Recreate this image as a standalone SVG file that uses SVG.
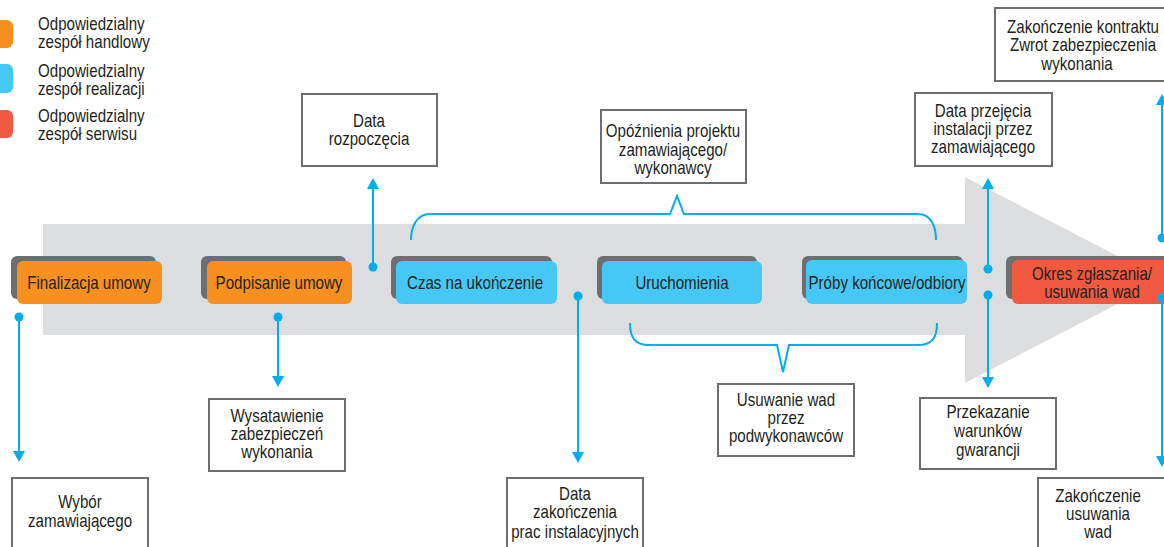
<svg xmlns="http://www.w3.org/2000/svg" width="1164" height="547" viewBox="0 0 1164 547">
  <defs>
    <style>
      .t { font-family: "Liberation Sans", Arial, sans-serif; font-size: 18px; fill: #231f20; text-anchor: middle; }
      .tl { text-anchor: start; }
      .box { fill: #ffffff; stroke: #6d6e70; stroke-width: 2; }
      .shadow { fill: #6d6e70; }
      .orange { fill: #f7901e; }
      .blue { fill: #45c8f5; }
      .red { fill: #f15a40; }
      .conn { fill: none; stroke: #00aeef; stroke-width: 2; }
      .dot { fill: #00aeef; }
      .brace { fill: none; stroke: #00aeef; stroke-width: 2; stroke-linejoin: miter; }
    </style>
    <!-- arrowhead drawn along +x so orient="auto" turns it with the line -->
    <marker id="arrow" viewBox="0 0 11 12" refX="1" refY="6" markerWidth="11" markerHeight="12" markerUnits="userSpaceOnUse" orient="auto">
      <path d="M0,0 L11,6 L0,12 Z" fill="#00aeef"/>
    </marker>
  </defs>

  <!-- Timeline arrow -->
  <polygon id="timeline" points="43,224 965,224 965,177 1164,280 965,383 965,335 43,335" fill="#dcdddf"/>

  <!-- Legend -->
  <g id="legend">
    <rect x="-15" y="20" width="28" height="28" rx="6" class="orange"/>
    <rect x="-15" y="64" width="28" height="29" rx="6" class="blue"/>
    <rect x="-15" y="110" width="28" height="28" rx="6" class="red"/>
    <text class="t tl" transform="translate(38 30) scale(.84 1)">Odpowiedzialny</text>
    <text class="t tl" transform="translate(38 48) scale(.84 1)">zespół handlowy</text>
    <text class="t tl" transform="translate(38 77) scale(.84 1)">Odpowiedzialny</text>
    <text class="t tl" transform="translate(38 95) scale(.84 1)">zespół realizacji</text>
    <text class="t tl" transform="translate(38 122) scale(.84 1)">Odpowiedzialny</text>
    <text class="t tl" transform="translate(38 140) scale(.84 1)">zespół serwisu</text>
  </g>

  <!-- Phase nodes -->
  <g id="n-finalizacja">
    <rect x="11" y="256" width="145" height="43" rx="6" class="shadow"/>
    <rect x="17" y="261" width="145" height="43" rx="6" class="orange"/>
    <text class="t" transform="translate(89 289) scale(.84 1)">Finalizacja umowy</text>
  </g>
  <g id="n-podpisanie">
    <rect x="201" y="256" width="145" height="43" rx="6" class="shadow"/>
    <rect x="207" y="261" width="145" height="43" rx="6" class="orange"/>
    <text class="t" transform="translate(279 289) scale(.84 1)">Podpisanie umowy</text>
  </g>
  <g id="n-czas">
    <rect x="391" y="256" width="161" height="43" rx="6" class="shadow"/>
    <rect x="396" y="261" width="161" height="43" rx="6" class="blue"/>
    <text class="t" transform="translate(475 289) scale(.84 1)">Czas na ukończenie</text>
  </g>
  <g id="n-uruchomienia">
    <rect x="597" y="256" width="160" height="43" rx="6" class="shadow"/>
    <rect x="602" y="261" width="160" height="43" rx="6" class="blue"/>
    <text class="t" transform="translate(682 289) scale(.84 1)">Uruchomienia</text>
  </g>
  <g id="n-proby">
    <rect x="802" y="256" width="161" height="43" rx="6" class="shadow"/>
    <rect x="806" y="260" width="161" height="44" rx="6" class="blue"/>
    <text class="t" transform="translate(887 289) scale(.84 1)">Próby końcowe/odbiory</text>
  </g>
  <g id="n-okres">
    <rect x="1006" y="256" width="170" height="43" rx="6" class="shadow"/>
    <rect x="1012" y="260" width="170" height="44" rx="6" class="red"/>
    <text class="t" transform="translate(1092 280) scale(.84 1)">Okres zgłaszania/</text>
    <text class="t" transform="translate(1092 298) scale(.84 1)">usuwania wad</text>
  </g>

  <!-- Milestone boxes -->
  <g id="b-rozpoczecie">
    <rect x="302" y="94" width="135" height="72" class="box"/>
    <text class="t" transform="translate(369 127) scale(.84 1)">Data</text>
    <text class="t" transform="translate(369 145) scale(.84 1)">rozpoczęcia</text>
  </g>
  <g id="b-opoznienia">
    <rect x="601" y="110" width="145" height="73" class="box"/>
    <text class="t" transform="translate(673 137) scale(.84 1)">Opóźnienia projektu</text>
    <text class="t" transform="translate(673 156) scale(.84 1)">zamawiającego/</text>
    <text class="t" transform="translate(673 174) scale(.84 1)">wykonawcy</text>
  </g>
  <g id="b-przejecie">
    <rect x="915" y="93" width="137" height="73" class="box"/>
    <text class="t" transform="translate(983 117) scale(.84 1)">Data przejęcia</text>
    <text class="t" transform="translate(983 135) scale(.84 1)">instalacji przez</text>
    <text class="t" transform="translate(983 153) scale(.84 1)">zamawiającego</text>
  </g>
  <g id="b-kontrakt">
    <rect x="995" y="8" width="180" height="73" class="box"/>
    <text class="t" transform="translate(1083 33) scale(.84 1)">Zakończenie kontraktu</text>
    <text class="t" transform="translate(1083 51) scale(.84 1)">Zwrot zabezpieczenia</text>
    <text class="t" transform="translate(1077 70) scale(.84 1)">wykonania</text>
  </g>
  <g id="b-wybor">
    <rect x="12" y="478" width="136" height="80" class="box"/>
    <text class="t" transform="translate(80 508) scale(.84 1)">Wybór</text>
    <text class="t" transform="translate(80 527) scale(.84 1)">zamawiającego</text>
  </g>
  <g id="b-zabezpieczenia">
    <rect x="209" y="399" width="136" height="72" class="box"/>
    <text class="t" transform="translate(277 422) scale(.84 1)">Wysatawienie</text>
    <text class="t" transform="translate(277 440) scale(.84 1)">zabezpieczeń</text>
    <text class="t" transform="translate(277 458) scale(.84 1)">wykonania</text>
  </g>
  <g id="b-zakonczenie-prac">
    <rect x="507" y="478" width="136" height="80" class="box"/>
    <text class="t" transform="translate(575 500) scale(.84 1)">Data</text>
    <text class="t" transform="translate(575 518) scale(.84 1)">zakończenia</text>
    <text class="t" transform="translate(575 538) scale(.84 1)">prac instalacyjnych</text>
  </g>
  <g id="b-usuwanie">
    <rect x="718" y="384" width="136" height="72" class="box"/>
    <text class="t" transform="translate(786 406) scale(.84 1)">Usuwanie wad</text>
    <text class="t" transform="translate(786 424) scale(.84 1)">przez</text>
    <text class="t" transform="translate(786 442) scale(.84 1)">podwykonawców</text>
  </g>
  <g id="b-gwarancja">
    <rect x="920" y="398" width="136" height="71" class="box"/>
    <text class="t" transform="translate(988 418) scale(.84 1)">Przekazanie</text>
    <text class="t" transform="translate(988 437) scale(.84 1)">warunków</text>
    <text class="t" transform="translate(988 456) scale(.84 1)">gwarancji</text>
  </g>
  <g id="b-usuwanie-wad">
    <rect x="1038" y="478" width="140" height="80" class="box"/>
    <text class="t" transform="translate(1098 502) scale(.84 1)">Zakończenie</text>
    <text class="t" transform="translate(1098 520) scale(.84 1)">usuwania</text>
    <text class="t" transform="translate(1098 538) scale(.84 1)">wad</text>
  </g>

  <!-- Connectors -->
  <g id="connectors">
    <!-- Data rozpoczęcia -->
    <line class="conn" x1="373" y1="267" x2="373" y2="188" marker-end="url(#arrow)"/>
    <circle class="dot" cx="373" cy="267" r="4.5"/>
    <!-- Data przejęcia -->
    <line class="conn" x1="988" y1="269" x2="988" y2="188" marker-end="url(#arrow)"/>
    <circle class="dot" cx="988" cy="269" r="4.5"/>
    <!-- Przekazanie warunków gwarancji -->
    <line class="conn" x1="988" y1="295" x2="988" y2="378" marker-end="url(#arrow)"/>
    <circle class="dot" cx="988" cy="295" r="4.5"/>
    <!-- Wybór zamawiającego -->
    <line class="conn" x1="19" y1="317" x2="19" y2="452" marker-end="url(#arrow)"/>
    <circle class="dot" cx="19" cy="317" r="4.5"/>
    <!-- Wysatawienie zabezpieczeń -->
    <line class="conn" x1="278" y1="317" x2="278" y2="377" marker-end="url(#arrow)"/>
    <circle class="dot" cx="278" cy="317" r="4.5"/>
    <!-- Data zakończenia prac -->
    <line class="conn" x1="578" y1="296" x2="578" y2="453" marker-end="url(#arrow)"/>
    <circle class="dot" cx="578" cy="296" r="4.5"/>
    <!-- Zakończenie kontraktu -->
    <line class="conn" x1="1162" y1="238" x2="1162" y2="104" marker-end="url(#arrow)"/>
    <circle class="dot" cx="1162" cy="238" r="4.5"/>
    <!-- Zakończenie usuwania wad -->
    <line class="conn" x1="1162" y1="298" x2="1162" y2="457" marker-end="url(#arrow)"/>
    <circle class="dot" cx="1162" cy="298" r="4.5"/>
    <!-- Brace: delays -->
    <path class="brace" d="M411,240 C411,228 416,214 430,214 L670,214 L677,196 L684,214 L918,214 C932,214 936,228 936,240"/>
    <!-- Brace: subcontractor fixes -->
    <path class="brace" d="M630,323 C630,338 635,345 649,345 L777,345 L783,372 L789,345 L918,345 C932,345 937,338 937,323"/>
  </g>
</svg>
